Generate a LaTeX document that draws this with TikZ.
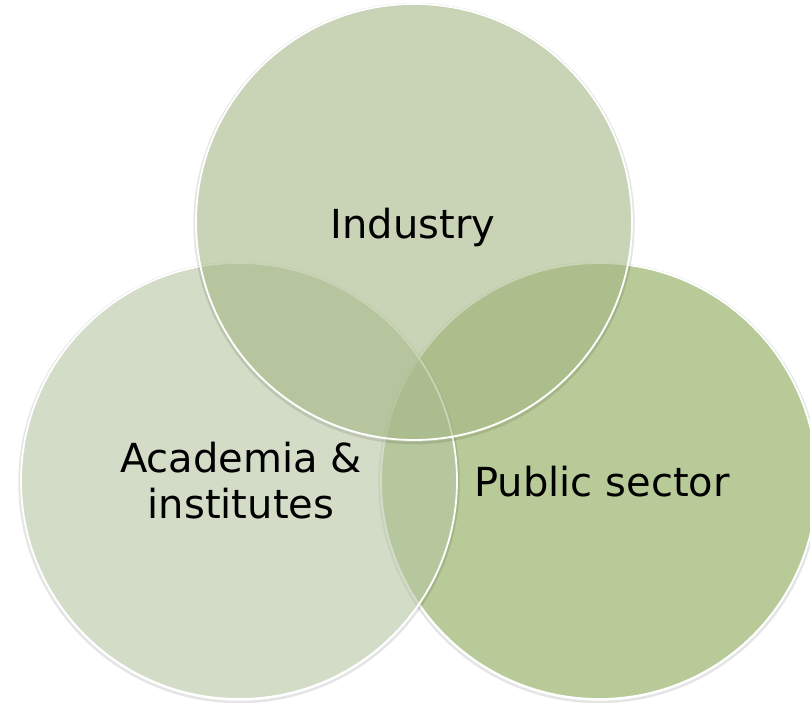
\documentclass[tikz,border=0pt]{standalone}
\usepackage{fontspec}
\setmainfont{DejaVu Sans}
\definecolor{topc}{RGB}{165,183,132}
\definecolor{leftc}{RGB}{182,197,163}
\definecolor{rightc}{RGB}{184,202,152}
\begin{document}
\begin{tikzpicture}[x=1pt,y=-1pt,
  venn/.style={circle, draw=white, line width=1.8pt, minimum size=436pt, inner sep=0pt},
  shade ring/.style={draw=black, draw opacity=0.10, line width=2.5pt},
  lbl/.style={font=\fontsize{40}{46}\selectfont, text=black, align=center, inner sep=0pt}]
\useasboundingbox (0,0) rectangle (810,703);
\fill[white] (0,0) rectangle (810,703);
\draw[shade ring] (599,482.5) circle[radius=219.5pt];
\node[venn, fill=rightc] (pub) at (599,481) {};
\draw[shade ring] (239,482.5) circle[radius=219.5pt];
\node[venn, fill=leftc, fill opacity=0.6] (acad) at (239,481) {};
\draw[shade ring] (414,223.5) circle[radius=219.5pt];
\node[venn, fill=topc, fill opacity=0.6] (ind) at (414,222) {};
\node[lbl, anchor=base] (tind) at (413,238) {Industry};
\node[lbl, anchor=base] (tpub) at (602,496) {Public sector};
\node[lbl, anchor=base] (tacad) at (241,518) {Academia \&\\institutes};
\end{tikzpicture}
\end{document}
